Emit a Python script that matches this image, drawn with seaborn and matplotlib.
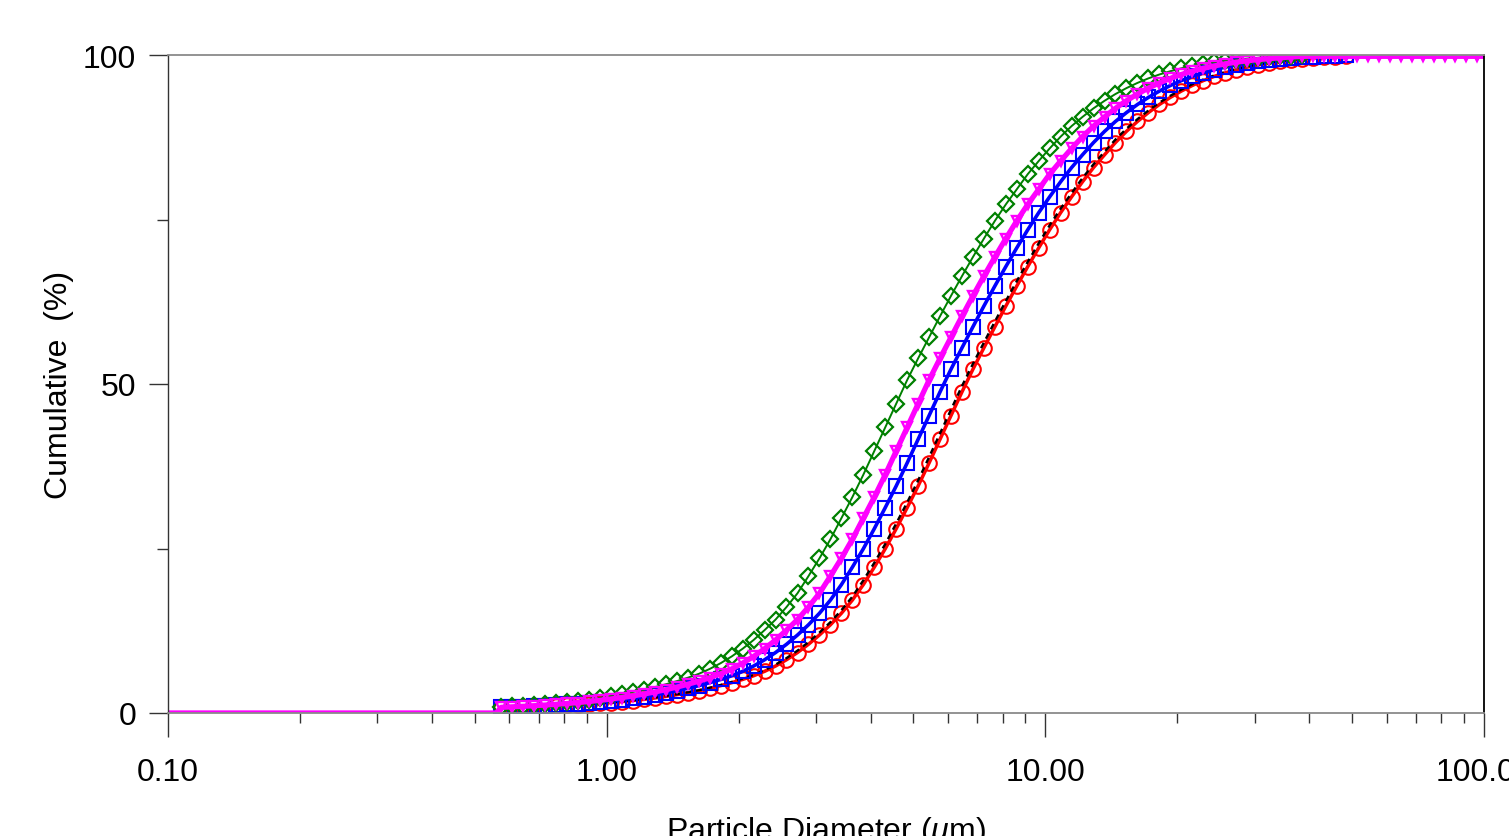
import matplotlib
matplotlib.use("Agg")
import matplotlib.pyplot as plt
import seaborn as sns
import pandas as pd
from matplotlib.ticker import FixedLocator, NullFormatter, LogLocator

# ---------------- data ----------------
diameter_um = [
    0.575, 0.610, 0.646, 0.684, 0.724, 0.767, 0.813, 0.861, 0.912, 0.966,
    1.023, 1.084, 1.148, 1.216, 1.288, 1.365, 1.445, 1.531, 1.622, 1.718,
    1.820, 1.928, 2.042, 2.163, 2.291, 2.427, 2.570, 2.723, 2.884, 3.055,
    3.236, 3.428, 3.631, 3.846, 4.074, 4.315, 4.571, 4.842, 5.129, 5.433,
    5.754, 6.095, 6.457, 6.839, 7.244, 7.674, 8.128, 8.610, 9.120, 9.661,
    10.23, 10.84, 11.48, 12.16, 12.88, 13.65, 14.45, 15.31, 16.22, 17.18,
    18.20, 19.28, 20.42, 21.63, 22.91, 24.27, 25.70, 27.23, 28.84, 30.55,
    32.36, 34.28, 36.31, 38.46, 40.74, 43.15, 45.71, 48.42, 51.29, 54.33,
    57.54, 60.95, 64.57, 68.39, 72.44, 76.74, 81.28, 86.10, 91.20, 96.61,
    102.3,
]
# flat zero-baseline before the first measured size class
start_diameters = [0.10, 0.56]
start_values = [0.0, 0.0]

green_cum = [
    0.90, 0.99, 1.09, 1.20, 1.33, 1.48, 1.65, 1.84, 2.05, 2.30,
    2.58, 2.88, 3.20, 3.55, 3.94, 4.37, 4.84, 5.36, 5.95, 6.70,
    7.58, 8.60, 9.77, 11.1, 12.6, 14.2, 16.1, 18.2, 20.8, 23.5,
    26.4, 29.6, 32.8, 36.2, 39.8, 43.4, 47.0, 50.6, 53.9, 57.1,
    60.3, 63.4, 66.4, 69.3, 72.1, 74.8, 77.3, 79.6, 81.9, 83.9,
    85.8, 87.6, 89.2, 90.6, 91.9, 93.05, 94.07, 94.97, 95.76, 96.45,
    97.04, 97.54, 97.98, 98.34, 98.65, 98.91, 99.12, 99.30, 99.45, 99.58,
    99.70, 99.80, 99.88, 99.94,
]
magenta_cum = [
    0.86, 0.94, 1.02, 1.11, 1.21, 1.32, 1.45, 1.59, 1.75, 1.93,
    2.13, 2.35, 2.60, 2.88, 3.20, 3.55, 3.94, 4.37, 4.84, 5.36,
    5.95, 6.70, 7.58, 8.60, 9.77, 11.1, 12.6, 14.2, 16.1, 18.2,
    20.8, 23.5, 26.4, 29.6, 32.8, 36.2, 39.8, 43.4, 47.0, 50.6,
    53.9, 57.1, 60.3, 63.4, 66.4, 69.3, 72.1, 74.8, 77.3, 79.6,
    81.9, 83.9, 85.8, 87.6, 89.2, 90.6, 91.9, 93.05, 94.07, 94.97,
    95.76, 96.45, 97.04, 97.54, 97.98, 98.34, 98.65, 98.91, 99.12, 99.30,
    99.45, 99.58, 99.70, 99.80, 99.80, 99.80, 99.80, 99.80, 99.80, 99.80,
    99.80, 99.80, 99.80, 99.80, 99.80, 99.80, 99.80, 99.80, 99.80, 99.80,
    99.80,
]
blue_cum = [
    0.85, 0.91, 0.98, 1.05, 1.13, 1.22, 1.32, 1.43, 1.56, 1.70,
    1.86, 2.04, 2.25, 2.49, 2.76, 3.05, 3.38, 3.75, 4.16, 4.61,
    5.10, 5.66, 6.33, 7.14, 8.09, 9.19, 10.44, 11.85, 13.4, 15.15,
    17.15, 19.5, 22.15, 24.95, 28.0, 31.2, 34.5, 38.0, 41.6, 45.2,
    48.8, 52.25, 55.5, 58.7, 61.85, 64.9, 67.85, 70.7, 73.45, 76.05,
    78.45, 80.75, 82.9, 84.85, 86.7, 88.4, 89.9, 91.25, 92.48, 93.56,
    94.52, 95.37, 96.11, 96.75, 97.29, 97.76, 98.16, 98.50, 98.78, 99.02,
    99.21, 99.38, 99.52, 99.64, 99.75, 99.84, 99.91, 99.96,
]
red_cum = [
    0.80, 0.85, 0.90, 0.96, 1.02, 1.09, 1.17, 1.26, 1.36, 1.47,
    1.59, 1.73, 1.89, 2.07, 2.28, 2.52, 2.79, 3.07, 3.38, 3.75,
    4.16, 4.61, 5.10, 5.66, 6.33, 7.14, 8.09, 9.19, 10.44, 11.85,
    13.4, 15.15, 17.15, 19.5, 22.15, 24.95, 28.0, 31.2, 34.5, 38.0,
    41.6, 45.2, 48.8, 52.25, 55.5, 58.7, 61.85, 64.9, 67.85, 70.7,
    73.45, 76.05, 78.45, 80.75, 82.9, 84.85, 86.7, 88.4, 89.9, 91.25,
    92.48, 93.56, 94.52, 95.37, 96.11, 96.75, 97.29, 97.76, 98.16, 98.50,
    98.78, 99.02, 99.21, 99.38, 99.52, 99.64, 99.75, 99.84,
]
black_cum = [
    0.80, 0.85, 0.91, 0.97, 1.03, 1.11, 1.19, 1.29, 1.39, 1.51,
    1.63, 1.78, 1.94, 2.13, 2.34, 2.59, 2.86, 3.15, 3.46, 3.84,
    4.26, 4.72, 5.23, 5.80, 6.51, 7.36, 8.34, 9.48, 10.77, 12.22,
    13.8, 15.62, 17.67, 20.15, 22.82, 25.67, 28.8, 32.0, 35.35, 38.9,
    42.5, 46.1, 49.7, 53.07, 56.3, 59.5, 62.62, 65.65, 68.57, 71.4,
    74.12, 76.67, 79.02, 81.32, 83.4, 85.32, 87.15, 88.8, 90.25, 91.57,
    92.76, 93.81, 94.74, 95.56, 96.28, 96.9, 97.41, 97.87, 98.25, 98.57,
    98.84, 99.07, 99.25, 99.41, 99.55, 99.67, 99.77, 99.86,
]

x_ticks = [0.1, 1.0, 10.0, 100.0]
x_tick_labels = ["0.10", "1.00", "10.00", "100.00"]
y_ticks = [0, 50, 100]
y_tick_labels = ["0", "50", "100"]
y_minor_ticks = [25, 75]

# ---------------- style ----------------
sns.set_style("white")
plt.rcParams["font.family"] = ["Liberation Sans", "DejaVu Sans"]
plt.rcParams["mathtext.fontset"] = "custom"
plt.rcParams["mathtext.rm"] = "Liberation Sans"
plt.rcParams["mathtext.it"] = "Liberation Sans:italic"
for key in ["text.color", "axes.labelcolor", "xtick.color", "ytick.color"]:
    plt.rcParams[key] = "black"

fig = plt.figure(figsize=(15.09, 8.37), dpi=100)
ax = fig.add_axes([168 / 1509, (837 - 714) / 837, (1484 - 168) / 1509, (714 - 56) / 837])

n_start = len(start_diameters)


def frame(vals):
    n = len(vals)
    return pd.DataFrame({"d": start_diameters + diameter_um[:n],
                         "v": start_values + vals})


series = [
    # values, color, marker, ms, mew, lw, linestyle
    (red_cum, "#ff0000", "o", 10.5, 1.5, 2.5, "-"),
    (black_cum, "#000000", None, 0, 0, 1.7, (0, (2.5, 2))),
    (blue_cum, "#0000ff", "s", 10.2, 1.5, 2.6, "-"),
    (green_cum, "#008000", "D", 7.8, 1.6, 1.4, "-"),
    (magenta_cum, "#ff00ff", "v", 7.2, 1.7, 3.8, "-"),
]

for vals, col, mk, ms, mew, lw, ls in series:
    kws = dict(color=col, linewidth=lw, linestyle=ls, estimator=None,
               errorbar=None, ax=ax, sort=False)
    if mk is not None:
        kws.update(marker=mk, markersize=ms, markevery=slice(n_start, None),
                   markerfacecolor="none", markeredgecolor=col,
                   markeredgewidth=mew)
    sns.lineplot(data=frame(vals), x="d", y="v", **kws)

ax.set_xscale("log")
ax.set_xlim(0.1, 100)
ax.set_ylim(0, 100)

ax.xaxis.set_major_locator(FixedLocator(x_ticks))
ax.set_xticklabels(x_tick_labels)
ax.xaxis.set_minor_locator(LogLocator(base=10, subs=range(2, 10), numticks=20))
ax.xaxis.set_minor_formatter(NullFormatter())
ax.yaxis.set_major_locator(FixedLocator(y_ticks))
ax.set_yticklabels(y_tick_labels)
ax.yaxis.set_minor_locator(FixedLocator(y_minor_ticks))

ax.tick_params(axis="x", which="major", direction="out", length=17, width=1.0,
               color="#333333", labelsize=23, pad=15, bottom=True)
ax.tick_params(axis="x", which="minor", direction="out", length=7, width=1.0,
               color="#333333", bottom=True)
ax.tick_params(axis="y", which="major", direction="out", length=14, width=1.0,
               color="#333333", labelsize=23, pad=9, left=True)
ax.tick_params(axis="y", which="minor", direction="out", length=8, width=1.0,
               color="#333333", left=True)

for side in ["top", "bottom"]:
    ax.spines[side].set_color("#8a8a8a")
    ax.spines[side].set_linewidth(1.3)
ax.spines["left"].set_color("#333333")
ax.spines["left"].set_linewidth(1.0)
ax.spines["right"].set_color("#000000")
ax.spines["right"].set_linewidth(1.3)

ax.set_xlabel(r"Particle Diameter ($\mathit{\mu}$m)", fontsize=23, labelpad=19)
ax.set_ylabel("Cumulative  (%)", fontsize=23, labelpad=6)

fig.savefig("out.png", dpi=100)
